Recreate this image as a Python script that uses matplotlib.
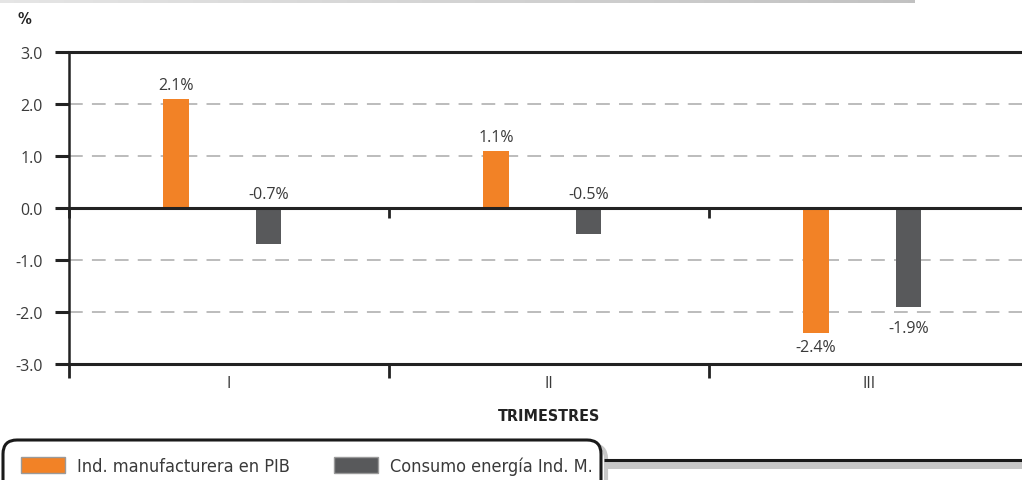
import matplotlib
matplotlib.use("Agg")
import matplotlib.pyplot as plt
from matplotlib.patches import FancyBboxPatch, Rectangle
from matplotlib import font_manager
import numpy as np

# Data
quarters = ["I", "II", "III"]
manufacturing_gdp = [2.1, 1.1, -2.4]
energy_consumption = [-0.7, -0.5, -1.9]
series_names = ["Ind. manufacturera en PIB", "Consumo energía Ind. M."]
y_ticks = [-3.0, -2.0, -1.0, 0.0, 1.0, 2.0, 3.0]

ORANGE = "#F28226"
GREY = "#58595B"
TEXT = "#3a3a3a"

plt.rcParams["font.family"] = ["Open Sans", "DejaVu Sans"]

# a condensed face for the bold captions and the legend, if one is available
installed = {(f.name, f.stretch) for f in font_manager.fontManager.ttflist}
if any(n == "Liberation Sans Narrow" for n, _ in installed):
    COND = dict(family=["Liberation Sans Narrow", "DejaVu Sans"])
elif ("DejaVu Sans", "condensed") in installed or any(
        n == "DejaVu Sans" and s not in ("normal", 500) for n, s in installed):
    COND = dict(family=["DejaVu Sans"], stretch="condensed")
else:
    COND = dict(family=["Open Sans", "DejaVu Sans"])

W, H = 1022, 481
fig = plt.figure(figsize=(W / 100, H / 100), dpi=100)
fig.patch.set_facecolor("white")

# main axes in pixel geometry
left, right, top, bottom = 69, 1029, 53, 365
ax = fig.add_axes([left / W, (H - bottom) / H, (right - left) / W, (bottom - top) / H])

x = np.arange(len(quarters))
bw = 0.08
off_a, off_b = -0.166, 0.123
bars_a = ax.bar(x + off_a, manufacturing_gdp, bw, color=ORANGE, zorder=3)
bars_b = ax.bar(x + off_b, energy_consumption, bw, color=GREY, zorder=3)

ax.set_xlim(-0.5, 2.5)
ax.set_ylim(-3, 3)

# grid and zero line
for v in [-2, -1, 1, 2]:
    ax.axhline(v, color="#aaaaaa", lw=1.1, ls=(0, (9, 6)), zorder=1)
ax.axhline(0, color="#222222", lw=2.2, zorder=4)

# spines
ax.spines["right"].set_visible(False)
ax.spines["top"].set_linewidth(2.2)
ax.spines["bottom"].set_linewidth(2.2)
ax.spines["left"].set_linewidth(1.8)
for s in ["top", "bottom", "left"]:
    ax.spines[s].set_color("#222222")

# y ticks
ax.set_yticks(y_ticks)
ax.set_yticklabels([f"{v:.1f}" for v in y_ticks], fontsize=11.5, color=TEXT)
ax.tick_params(axis="y", length=10, width=2.2, color="#222222", pad=9)

# x ticks: boundaries (major) and category labels (minor)
bounds = np.arange(-0.5, len(quarters), 1.0)
ax.set_xticks(bounds)
ax.set_xticklabels([])
ax.tick_params(axis="x", which="major", length=10, width=2.0, color="#222222", direction="out")
ax.set_xticks(x, minor=True)
ax.set_xticklabels(quarters, minor=True, fontsize=11.5, color=TEXT)
ax.tick_params(axis="x", which="minor", length=0, pad=8)

# ticks hanging from the zero line
ax.vlines(bounds, -0.19, 0, color="#222222", lw=2.0, zorder=4, clip_on=False)

# value labels
def label(xpos, v, above, gap=6):
    if above:
        ax.annotate(f"{v:.1f}%", (xpos, max(v, 0)), xytext=(0, gap), textcoords="offset pixels",
                    ha="center", va="bottom", fontsize=11.5, color=TEXT, zorder=5)
    else:
        ax.annotate(f"{v:.1f}%", (xpos, v), xytext=(0, -gap), textcoords="offset pixels",
                    ha="center", va="top", fontsize=11.5, color=TEXT, zorder=5)

for i in range(len(quarters)):
    for xpos, v in [(x[i] + off_a, manufacturing_gdp[i]), (x[i] + off_b, energy_consumption[i])]:
        # labels of small negative bars sit above the zero line
        above = v > -1.0
        # push a label clear of a dashed line lying just below its bar end
        gap = 13 if (not above and (v - np.floor(v)) < 0.3) else 6
        label(xpos, v, above, gap)

# overlay in pixel coordinates for frame decorations and titles
ov = fig.add_axes([0, 0, 1, 1])
ov.axis("off")
ov.patch.set_alpha(0)
ov.set_zorder(5)

# top shaded strip
grad = np.linspace(0.9, 0.76, 256).reshape(1, -1)
ov.imshow(np.dstack([grad, grad, grad]), extent=(0, 915, 4, 0), aspect="auto", zorder=1)
ov.set_xlim(0, W)
ov.set_ylim(H, 0)

ov.text(17, 20, "%", fontsize=11, fontweight="bold", color="#222222", va="center", **COND)
ov.text(549, 417, "TRIMESTRES", fontsize=11.5, fontweight="bold", color="#222222",
        ha="center", va="center", **COND)

# legend frame with shadow and rule
ov.add_patch(FancyBboxPatch((8, 446), 598, 60, boxstyle="round,pad=0,rounding_size=14",
                            facecolor="none", edgecolor="#c8c8c8", lw=3, zorder=2))
ov.add_patch(FancyBboxPatch((3, 441), 598, 60, boxstyle="round,pad=0,rounding_size=14",
                            facecolor="white", edgecolor="#1a1a1a", lw=2.2, zorder=3))
ov.add_patch(Rectangle((606, 463), W - 606, 7, facecolor="#c8c8c8", edgecolor="none", zorder=2))
ov.plot([604, W], [461, 461], color="#1a1a1a", lw=2.2, zorder=3, solid_capstyle="butt")

leg = ov.legend([bars_a, bars_b], series_names, loc="center left",
                bbox_to_anchor=(5 / W, 1 - 467 / H), bbox_transform=fig.transFigure,
                ncol=2, frameon=False,
                prop=dict(size=13, **COND),
                handlelength=2.4, handleheight=0.95, handletextpad=0.7, columnspacing=2.45)
for h in leg.legend_handles:
    h.set_edgecolor("#9a9a9a")
    h.set_linewidth(1.0)
for t in leg.get_texts():
    t.set_color(TEXT)
leg.set_zorder(6)

fig.savefig("out.png", dpi=100, facecolor="white")
